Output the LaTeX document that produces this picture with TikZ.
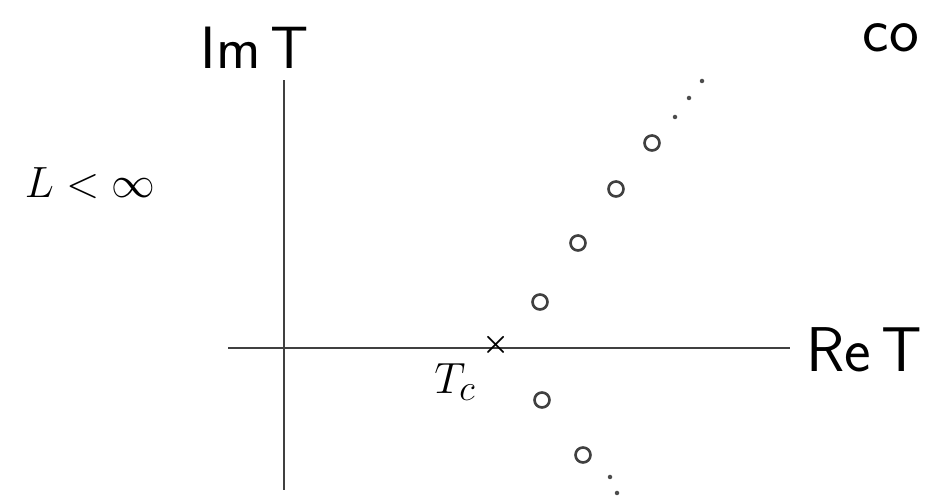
\documentclass[tikz,border=0pt]{standalone}
\usepackage{amsmath,amssymb}
\usepackage{xcolor}
\usetikzlibrary{arrows.meta, positioning, calc}

\begin{document}
\begin{tikzpicture}[font=\sffamily,
  axis/.style={line width=1.1pt, black!75},
  zero/.style={draw, circle, line width=1.5pt, black!75, minimum size=0.3cm, inner sep=0pt},
  dotmark/.style={fill, circle, black!70, minimum size=0.09cm, inner sep=0pt}]
  \useasboundingbox (0,0) rectangle (18.58,9.96);
  % axes
  \coordinate (xl) at (4.56,3.0);
  \coordinate (xr) at (15.8,3.0);
  \coordinate (yb) at (5.68,0.16);
  \coordinate (yt) at (5.68,8.36);
  \draw[axis] (xl) -- (xr);
  \draw[axis] (yb) -- (yt);
  \node (imT) at (5.1,9.0) {\fontsize{34}{38}\selectfont Im\,T};
  \node[anchor=west] (reT) at (16.0,2.96) {\fontsize{36}{40}\selectfont Re\,T};
  \node (Linf) at (1.8,6.3) {\fontsize{26}{30}\selectfont $L<\infty$};
  \node[anchor=east] (co) at (18.5,9.2) {\fontsize{36}{40}\selectfont co};
  % critical point
  \node (Tcx) at (9.92,3.06) {\fontsize{16}{18}\selectfont $\boldsymbol{\times}$};
  \node (Tc) at (9.1,2.32) {\fontsize{30}{32}\selectfont $T_c$};
  % zeros
  \foreach \n/\p in {1/{10.8,3.92}, 2/{11.56,5.1}, 3/{12.32,6.18}, 4/{13.04,7.1},
                     5/{10.84,1.96}, 6/{11.66,0.86}} {
    \node[zero] (z\n) at (\p) {};
  }
  \foreach \n/\p in {1/{13.5,7.62}, 2/{13.78,8.0}, 3/{14.04,8.34},
                     4/{12.2,0.42}, 5/{12.34,0.1}} {
    \node[dotmark] (d\n) at (\p) {};
  }
\end{tikzpicture}
\end{document}
